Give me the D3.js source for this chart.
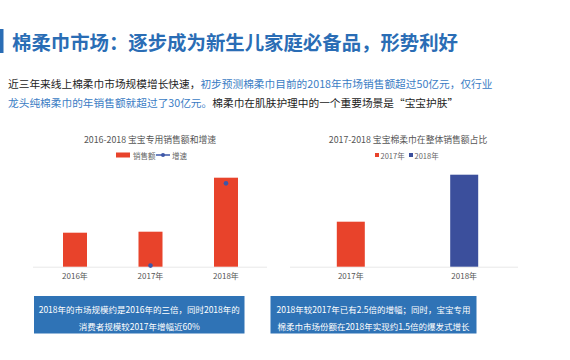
<!DOCTYPE html>
<html><head><meta charset="utf-8">
<script src="https://cdn.jsdelivr.net/npm/d3@7"></script>
<style>
body{margin:0;background:#fff;}
svg{display:block;font-family:"Noto Sans CJK SC","Noto Sans",sans-serif;}
</style></head>
<body><svg id="c" width="570" height="360"></svg>
<script>
const titleText = "棉柔巾市场：逐步成为新生儿家庭必备品，形势利好";
const para1Black = "近三年来线上棉柔巾市场规模增长快速，";
const para1Blue = "初步预测棉柔巾目前的2018年市场销售额超过50亿元，仅行业";
const para2Blue = "龙头纯棉柔巾的年销售额就超过了30亿元。";
const para2Black = "棉柔巾在肌肤护理中的一个重要场景是“宝宝护肤”";

const leftTitle = "2016-2018 宝宝专用销售额和增速";
const leftCategories = ["2016年", "2017年", "2018年"];
const salesValues = [3.4, 3.5, 8.9];
const growthValues = [null, 2, 150];
const leftLegend = ["销售额", "增速"];

const rightTitle = "2017-2018 宝宝棉柔巾在整体销售额占比";
const rightCategories = ["2017年", "2018年"];
const shareValues = [4.5, 9.2];

const leftNote = ["2018年的市场规模约是2016年的三倍，同时2018年的", "消费者规模较2017年增幅近60%"];
const rightNote = ["2018年较2017年已有2.5倍的增幅；同时，宝宝专用", "棉柔巾市场份额在2018年实现约1.5倍的爆发式增长"];

const RED = "#e8432b", BLUE = "#3b4f9c", DOT = "#3d57a8", BOX = "#2f73b6", TBLUE = "#2a6db5", PBLUE = "#3a7cc4";
const svg = d3.select("#c");

// header
svg.append("rect").attr("x", 0).attr("y", 29).attr("width", 3.5).attr("height", 24).attr("fill", TBLUE);
svg.append("text").attr("x", 12).attr("y", 41).attr("dominant-baseline", "central")
  .attr("font-size", 19.4).attr("font-weight", "bold").attr("fill", TBLUE).text(titleText);

const p1 = svg.append("text").attr("x", 8).attr("y", 83).attr("dominant-baseline", "central").attr("font-size", 10.7);
p1.append("tspan").attr("fill", "#222").text(para1Black);
p1.append("tspan").attr("fill", PBLUE).text(para1Blue);
const p2 = svg.append("text").attr("x", 8).attr("y", 102).attr("dominant-baseline", "central").attr("font-size", 10.7);
p2.append("tspan").attr("fill", PBLUE).text(para2Blue);
p2.append("tspan").attr("fill", "#222").text(para2Black);

const baseY = 266.7, topY = 166.7;

// ---- left chart
const xL = d3.scalePoint().domain(leftCategories).range([37.25, 263.75]).padding(0.5);
const yL = d3.scaleLinear().domain([0, 10]).range([baseY, topY]);
const y2 = d3.scaleLinear().domain([0, 180]).range([baseY, topY]);
const gL = svg.append("g");
gL.append("text").attr("x", 150).attr("y", 139).attr("text-anchor", "middle").attr("dominant-baseline", "central")
  .attr("font-size", 8.8).attr("fill", "#555").text(leftTitle);
// legend
gL.append("rect").attr("x", 116).attr("y", 152.5).attr("width", 14).attr("height", 5).attr("fill", RED);
gL.append("text").attr("x", 133).attr("y", 155).attr("dominant-baseline", "central").attr("font-size", 7.5).attr("fill", "#666").text(leftLegend[0]);
gL.append("line").attr("x1", 156).attr("x2", 170).attr("y1", 155).attr("y2", 155).attr("stroke", DOT).attr("stroke-width", 1.5);
gL.append("circle").attr("cx", 163).attr("cy", 155).attr("r", 2).attr("fill", DOT);
gL.append("text").attr("x", 172).attr("y", 155).attr("dominant-baseline", "central").attr("font-size", 7.5).attr("fill", "#666").text(leftLegend[1]);

gL.append("line").attr("x1", 33).attr("x2", 267).attr("y1", baseY + 0.5).attr("y2", baseY + 0.5).attr("stroke", "#e8e8e8");
gL.selectAll(".bar").data(leftCategories).join("rect")
  .attr("x", d => xL(d) - 12).attr("width", 24)
  .attr("y", (d, i) => yL(salesValues[i])).attr("height", (d, i) => baseY - yL(salesValues[i]))
  .attr("fill", RED);
gL.selectAll(".dot").data(leftCategories.filter((d, i) => growthValues[i] != null)).join("circle")
  .attr("cx", d => xL(d)).attr("cy", d => y2(growthValues[leftCategories.indexOf(d)]))
  .attr("r", 2.3).attr("fill", DOT);
gL.selectAll(".lab").data(leftCategories).join("text")
  .attr("x", d => xL(d)).attr("y", 275.7).attr("text-anchor", "middle").attr("dominant-baseline", "central")
  .attr("font-size", 8).attr("fill", "#555").text(d => d);

// ---- right chart
const xR = d3.scalePoint().domain(rightCategories).range([294.1, 520.9]).padding(0.5);
const yR = d3.scaleLinear().domain([0, 10]).range([baseY, topY]);
const gR = svg.append("g");
gR.append("text").attr("x", 408).attr("y", 139).attr("text-anchor", "middle").attr("dominant-baseline", "central")
  .attr("font-size", 8.8).attr("fill", "#555").text(rightTitle);
const legColors = [RED, BLUE];
const legX = [375, 409];
rightCategories.forEach((c, i) => {
  gR.append("rect").attr("x", legX[i]).attr("y", 153).attr("width", 4).attr("height", 4).attr("fill", legColors[i]);
  gR.append("text").attr("x", legX[i] + 5.5).attr("y", 155).attr("dominant-baseline", "central").attr("font-size", 7.5).attr("fill", "#666").text(c);
});
gR.append("line").attr("x1", 290).attr("x2", 518).attr("y1", baseY + 0.5).attr("y2", baseY + 0.5).attr("stroke", "#e8e8e8");
gR.selectAll(".bar").data(rightCategories).join("rect")
  .attr("x", d => xR(d) - 14).attr("width", 28)
  .attr("y", (d, i) => yR(shareValues[i])).attr("height", (d, i) => baseY - yR(shareValues[i]))
  .attr("fill", (d, i) => legColors[i]);
gR.selectAll(".lab").data(rightCategories).join("text")
  .attr("x", d => xR(d)).attr("y", 275.7).attr("text-anchor", "middle").attr("dominant-baseline", "central")
  .attr("font-size", 8).attr("fill", "#555").text(d => d);

// ---- notes
function note(x0, x1, lines) {
  svg.append("rect").attr("x", x0).attr("y", 296).attr("width", x1 - x0).attr("height", 37.5).attr("fill", BOX);
  lines.forEach((t, i) => {
    svg.append("text").attr("x", (x0 + x1) / 2).attr("y", 309 + i * 16.5).attr("text-anchor", "middle")
      .attr("dominant-baseline", "central").attr("font-size", 8.5).attr("fill", "#fff").text(t);
  });
}
note(34, 244.5, leftNote);
note(270.5, 476.5, rightNote);
</script></body></html>
